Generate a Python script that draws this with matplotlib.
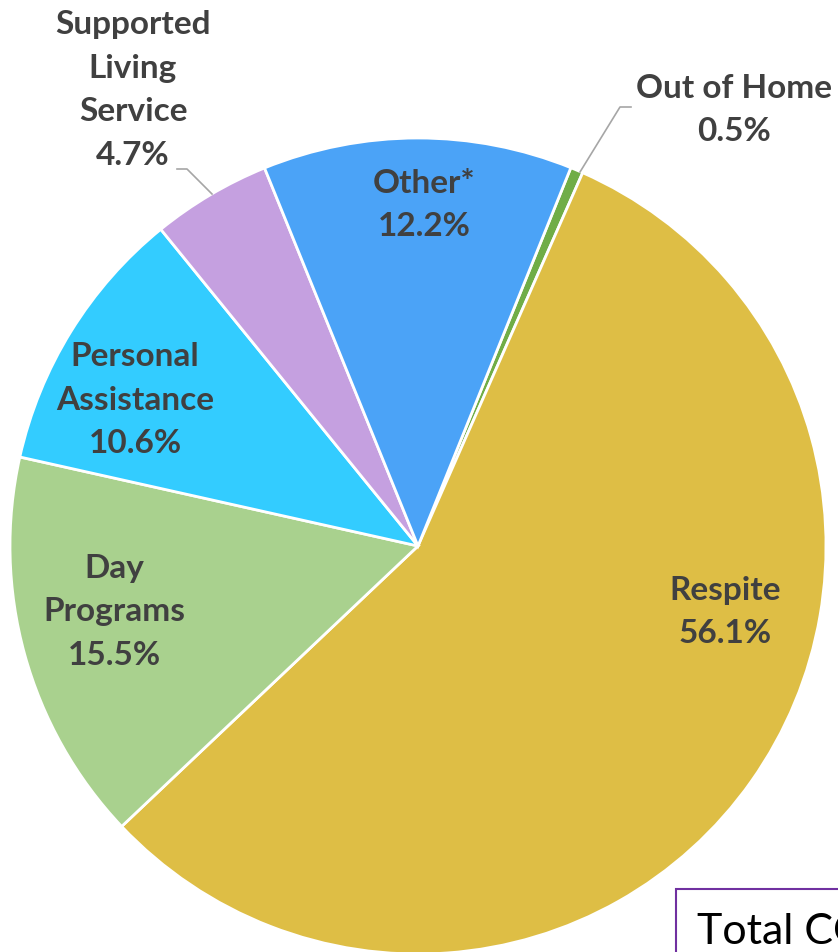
import matplotlib.pyplot as plt
from matplotlib.patches import Rectangle

# slice data, clockwise from the top
categories = ['Out of Home', 'Respite', 'Day\nPrograms', 'Personal\nAssistance',
              'Supported\nLiving\nService', 'Other*']
shares = [0.5, 56.1, 15.5, 10.6, 4.7, 12.2]
colors = ['#70AD47', '#DEBE45', '#A9D18E', '#33CCFF', '#C5A0E0', '#4BA3F7']

W, H = 838, 953
fig = plt.figure(figsize=(W / 100, H / 100), dpi=100)
ax = fig.add_axes([0, 0, 1, 1])

cx, cy, r = 418, H - 547, 408
wedges, _ = ax.pie(shares, colors=colors, startangle=68, counterclock=False,
                   center=(cx, cy), radius=r, frame=True,
                   wedgeprops=dict(edgecolor='white', linewidth=2))
ax.set_xlim(0, W)
ax.set_ylim(0, H)
ax.axis('off')

txt = dict(fontsize=24, fontweight='bold', color='#404040', family=['Lato', 'DejaVu Sans'],
           ha='center', va='center', linespacing=1.6)

# label positions in pixel space (top-down y)
label_pos = {
    'Out of Home': (734, 110),
    'Respite': (725, 612),
    'Day\nPrograms': (114, 612),
    'Personal\nAssistance': (135, 400),
    'Supported\nLiving\nService': (133, 90),
    'Other*': (424, 205),
}
for cat, val in zip(categories, shares):
    x, y = label_pos[cat]
    ax.text(x, H - y, f'{cat}\n{val}%', **txt)

# leader lines
ax.plot([580, 620, 631], [H - 173, H - 108, H - 108], color='#A6A6A6', lw=1.2)
ax.plot([212, 187, 177], [H - 195, H - 170, H - 170], color='#A6A6A6', lw=1.2)

# note box running off the corner, as in the source slide
ax.add_patch(Rectangle((676, H - 1000), 300, 110, facecolor='white',
                       edgecolor='#7030A0', lw=1.5, clip_on=False))
ax.text(697, H - 944, 'Total CO', fontsize=31, color='black', ha='left', va='baseline',
        family=['Lato', 'DejaVu Sans'])

fig.savefig('out.png', dpi=100)
